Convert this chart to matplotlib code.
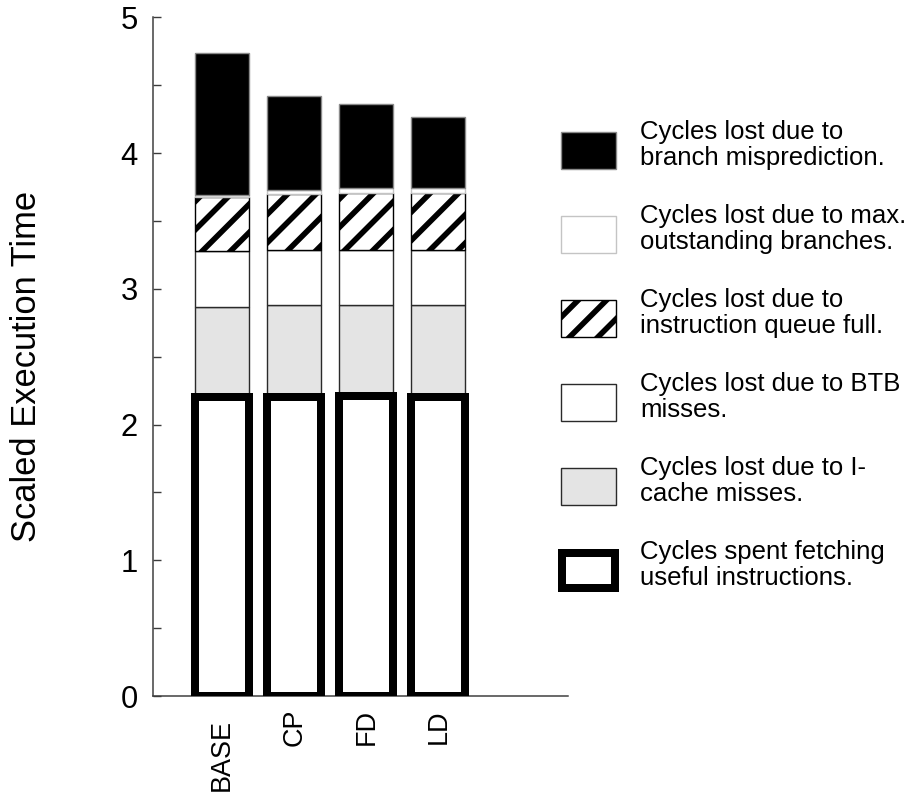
import matplotlib
matplotlib.use("Agg")
import matplotlib.pyplot as plt
import matplotlib.transforms as mtransforms
from matplotlib.patches import Rectangle
from matplotlib.ticker import MultipleLocator

# Fetch-cycle breakdown per configuration (stacked bottom to top)
configs = ["BASE", "CP", "FD", "LD"]
useful_fetch = [2.20, 2.20, 2.21, 2.20]
icache_miss = [0.67, 0.68, 0.67, 0.68]
btb_miss = [0.41, 0.41, 0.41, 0.41]
iq_full = [0.40, 0.41, 0.42, 0.42]
max_branches = [0.01, 0.03, 0.03, 0.03]
mispredict = [1.05, 0.69, 0.62, 0.53]

legend_labels = [
    "Cycles lost due to\nbranch misprediction.",
    "Cycles lost due to max.\noutstanding branches.",
    "Cycles lost due to\ninstruction queue full.",
    "Cycles lost due to BTB\nmisses.",
    "Cycles lost due to I-\ncache misses.",
    "Cycles spent fetching\nuseful instructions.",
]
y_label = "Scaled Execution Time"

W, H = 911, 794
DPI = 85  # also sets the hatch stripe spacing (dpi / 6 pixels)


def pt(px):
    """Convert a pixel size to points at the figure resolution."""
    return px * 72.0 / DPI


plt.rcParams["font.family"] = ["Liberation Sans", "DejaVu Sans"]
plt.rcParams["hatch.linewidth"] = pt(5.6)
plt.rcParams["hatch.color"] = "black"

fig = plt.figure(figsize=(W / DPI, H / DPI), dpi=DPI)


def fx(px):
    return px / W


def fy(py):
    return 1 - py / H


ax = fig.add_axes([fx(153), fy(696), 415 / W, 678.5 / H])

thin = pt(1.4)
styles = {
    "mispredict": dict(facecolor="black", edgecolor="#8a8a8a", linewidth=thin),
    "max_branches": dict(facecolor="white", edgecolor="#c4c4c4", linewidth=thin),
    "iq_full": dict(facecolor="white", edgecolor="black", linewidth=thin, hatch="/"),
    "btb_miss": dict(facecolor="white", edgecolor="#2a2a2a", linewidth=thin),
    "icache_miss": dict(facecolor="#e4e4e4", edgecolor="#2a2a2a", linewidth=thin),
    "useful": dict(facecolor="white", edgecolor="black", linewidth=pt(8)),
}

x = list(range(len(configs)))
width = 0.75

bottom = [0.0] * len(configs)
stack = [
    ("useful", useful_fetch, 4),
    ("icache_miss", icache_miss, 2),
    ("btb_miss", btb_miss, 2),
    ("iq_full", iq_full, 2),
    ("max_branches", max_branches, 2),
    ("mispredict", mispredict, 2),
]
for key, vals, z in stack:
    ax.bar(x, vals, width, bottom=bottom, zorder=z, **styles[key])
    bottom = [b + v for b, v in zip(bottom, vals)]

ax.set_xlim(-0.96, 4.8)
ax.set_ylim(0, 5)

for side in ("top", "right"):
    ax.spines[side].set_visible(False)
for side in ("left", "bottom"):
    ax.spines[side].set_color("#3c3c3c")
    ax.spines[side].set_linewidth(pt(1.5))
ax.spines["bottom"].set_zorder(1)

ax.yaxis.set_major_locator(MultipleLocator(1))
ax.yaxis.set_minor_locator(MultipleLocator(0.5))
ax.tick_params(axis="y", which="both", direction="in", length=pt(8),
               width=pt(1.4), color="#3c3c3c", labelsize=pt(31), pad=pt(15))

ax.set_xticks(x)
ax.set_xticklabels(configs, rotation=90, va="top", ha="center", fontsize=pt(27))
ax.tick_params(axis="x", length=0, pad=pt(13))
base_shift = mtransforms.ScaledTranslation(0, -10 / DPI, fig.dpi_scale_trans)
lbl = ax.get_xticklabels()[0]
lbl.set_transform(lbl.get_transform() + base_shift)

fig.text(fx(27), fy(366), y_label, rotation=90, ha="center", va="center",
         fontsize=pt(34.5))

# Legend built from swatches and two-line captions
legend_keys = ["mispredict", "max_branches", "iq_full", "btb_miss",
               "icache_miss", "useful"]
for i, (key, label) in enumerate(zip(legend_keys, legend_labels)):
    cy = 150.5 + 84 * i
    st = dict(styles[key])
    if key == "useful":
        rect = Rectangle((fx(562), fy(cy + 17.5)), 53 / W, 35 / H,
                         transform=fig.transFigure, **st)
    else:
        rect = Rectangle((fx(561), fy(cy + 18.5)), 55 / W, 37 / H,
                         transform=fig.transFigure, **st)
    fig.add_artist(rect)
    for j, line in enumerate(label.split("\n")):
        fig.text(fx(640), fy(139.3 + 84 * i + 25.7 * j), line,
                 ha="left", va="baseline", fontsize=pt(25.8))

fig.savefig("out.png", dpi=DPI)
